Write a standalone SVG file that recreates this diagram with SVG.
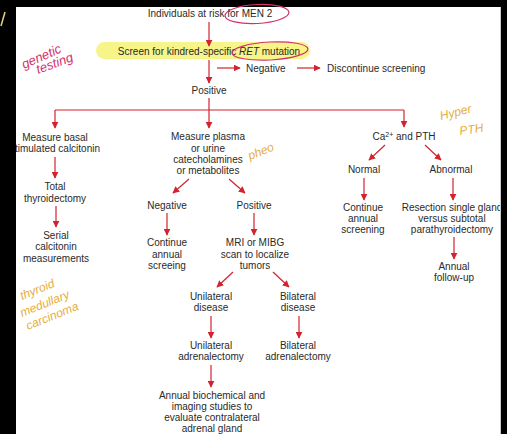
<svg xmlns="http://www.w3.org/2000/svg" width="507" height="434" viewBox="0 0 507 434">
<defs>
<marker id="ah" viewBox="0 0 10 10" refX="9" refY="5" markerWidth="7" markerHeight="7" markerUnits="userSpaceOnUse" orient="auto">
<path d="M0,0 L10,5 L0,10 z" fill="#d2232f"/>
</marker>
<style>
.t{font-family:"Liberation Sans",Arial,sans-serif;font-size:10px;fill:#2a2a2a;text-anchor:middle}
.ts{font-family:"Liberation Sans",Arial,sans-serif;font-size:10px;fill:#2a2a2a}
.c{stroke:#d2232f;stroke-width:1.2;fill:none}
.ca{stroke:#d2232f;stroke-width:1.2;fill:none;marker-end:url(#ah)}
.hp{font-family:"Liberation Sans",sans-serif;font-style:italic;font-size:13px;fill:#d4306e}
.hy{font-family:"Liberation Sans",sans-serif;font-style:italic;font-size:12px;fill:#e6ad3c}
</style>
</defs>
<rect x="0" y="0" width="507" height="434" fill="#000"/>
<rect x="16" y="7" width="485" height="427" fill="#fff"/>
<rect x="96" y="42" width="214" height="17" rx="8.5" fill="#f7f48a"/>

<g id="connectors">
<line class="ca" x1="209" y1="22" x2="209" y2="46"/>
<line class="ca" x1="209" y1="60" x2="209" y2="83"/>
<line class="ca" x1="217" y1="68" x2="240" y2="68"/>
<line class="ca" x1="297" y1="68" x2="320" y2="68"/>
<polyline class="c" points="209,98 209,110"/>
<line class="c" x1="55" y1="110" x2="404" y2="110"/>
<line class="ca" x1="55" y1="110" x2="55" y2="128"/>
<line class="ca" x1="209" y1="110" x2="209" y2="128"/>
<line class="ca" x1="404" y1="110" x2="404" y2="127"/>
<line class="ca" x1="55" y1="157" x2="55" y2="178"/>
<line class="ca" x1="56" y1="206" x2="56" y2="227"/>
<line class="ca" x1="189" y1="179" x2="173" y2="193"/>
<line class="ca" x1="229" y1="179" x2="245" y2="193"/>
<line class="ca" x1="167" y1="213" x2="167" y2="235"/>
<line class="ca" x1="254" y1="213" x2="254" y2="235"/>
<line class="ca" x1="233" y1="272" x2="217" y2="287"/>
<line class="ca" x1="273" y1="272" x2="289" y2="287"/>
<line class="ca" x1="211" y1="316" x2="211" y2="338"/>
<line class="ca" x1="299" y1="316" x2="299" y2="338"/>
<line class="ca" x1="211" y1="365" x2="211" y2="387"/>
<line class="ca" x1="385" y1="145" x2="369" y2="160"/>
<line class="ca" x1="425" y1="145" x2="441" y2="160"/>
<line class="ca" x1="364" y1="178" x2="364" y2="200"/>
<line class="ca" x1="453" y1="178" x2="453" y2="200"/>
<line class="ca" x1="454" y1="237" x2="454" y2="259"/>
</g>

<g id="n-risk"><text class="t" x="210" y="17">Individuals at risk for MEN 2</text></g>
<g id="n-screen"><text class="t" x="209" y="55">Screen for kindred-specific <tspan font-style="italic">RET</tspan> mutation</text></g>
<g id="n-neg"><text class="ts" x="246" y="72">Negative</text></g>
<g id="n-disc"><text class="ts" x="327" y="72">Discontinue screening</text></g>
<g id="n-pos"><text class="t" x="209" y="94">Positive</text></g>

<g id="n-basal"><text class="t" x="55" y="141">Measure basal</text><text class="t" x="55" y="152">stimulated calcitonin</text></g>
<g id="n-thyr"><text class="t" x="55" y="190">Total</text><text class="t" x="55" y="202">thyroidectomy</text></g>
<g id="n-serial"><text class="t" x="56" y="239">Serial</text><text class="t" x="56" y="250">calcitonin</text><text class="t" x="56" y="262">measurements</text></g>

<g id="n-plasma"><text class="t" x="208" y="140">Measure plasma</text><text class="t" x="208" y="152">or urine</text><text class="t" x="208" y="163">catecholamines</text><text class="t" x="208" y="174">or metabolites</text></g>
<g id="n-mneg"><text class="t" x="167" y="209">Negative</text></g>
<g id="n-mpos"><text class="t" x="254" y="209">Positive</text></g>
<g id="n-cont1"><text class="t" x="167" y="246">Continue</text><text class="t" x="167" y="258">annual</text><text class="t" x="167" y="269">screeing</text></g>
<g id="n-mri"><text class="t" x="255" y="246">MRI or MIBG</text><text class="t" x="255" y="258">scan to localize</text><text class="t" x="255" y="269">tumors</text></g>
<g id="n-unid"><text class="t" x="211" y="300">Unilateral</text><text class="t" x="211" y="311">disease</text></g>
<g id="n-bid"><text class="t" x="298" y="300">Bilateral</text><text class="t" x="298" y="311">disease</text></g>
<g id="n-unia"><text class="t" x="211" y="349">Unilateral</text><text class="t" x="211" y="360">adrenalectomy</text></g>
<g id="n-bia"><text class="t" x="298" y="349">Bilateral</text><text class="t" x="298" y="360">adrenalectomy</text></g>
<g id="n-annbio"><text class="t" x="212" y="399">Annual biochemical and</text><text class="t" x="212" y="410">imaging studies to</text><text class="t" x="212" y="421">evaluate contralateral</text><text class="t" x="212" y="432">adrenal gland</text></g>

<g id="n-ca"><text class="t" x="404" y="140">Ca<tspan font-size="7" dy="-3">2+</tspan><tspan dy="3"> and PTH</tspan></text></g>
<g id="n-normal"><text class="t" x="364" y="173">Normal</text></g>
<g id="n-abn"><text class="t" x="451" y="173">Abnormal</text></g>
<g id="n-cont2"><text class="t" x="363" y="211">Continue</text><text class="t" x="363" y="222">annual</text><text class="t" x="363" y="233">screening</text></g>
<g id="n-resect"><text class="t" x="452" y="211">Resection single gland</text><text class="t" x="452" y="222">versus subtotal</text><text class="t" x="452" y="233">parathyroidectomy</text></g>
<g id="n-annfu"><text class="t" x="454" y="270">Annual</text><text class="t" x="454" y="281">follow-up</text></g>

<g id="annotations">
<ellipse cx="257" cy="14" rx="32" ry="9.5" fill="none" stroke="#d4306e" stroke-width="1.2" transform="rotate(-3 257 14)"/>
<ellipse cx="270" cy="51" rx="38" ry="9" fill="none" stroke="#d4306e" stroke-width="1.2" transform="rotate(-3 270 51)"/>
<text class="hp" transform="translate(24 69) rotate(-24)">genetic</text>
<text class="hp" transform="translate(38 74) rotate(-20)">testing</text>
<text class="hy" transform="translate(250 160) rotate(-22)">pheo</text>
<text class="hy" transform="translate(441 120) rotate(-14)">Hyper</text>
<text class="hy" transform="translate(460 135) rotate(-8)">PTH</text>
<text class="hy" transform="translate(22 300) rotate(-22)">thyroid</text>
<text class="hy" transform="translate(22 317) rotate(-22)">medullary</text>
<text class="hy" transform="translate(28 330) rotate(-22)">carcinoma</text>
</g>
<rect x="0" y="0" width="16" height="434" fill="#000"/>
<path d="M1,26 L5,12" stroke="#e6d27a" stroke-width="1.5" fill="none"/>
<rect x="501" y="0" width="6" height="434" fill="#000"/>
<rect x="500" y="7" width="1" height="427" fill="#ccc"/>
</svg>
